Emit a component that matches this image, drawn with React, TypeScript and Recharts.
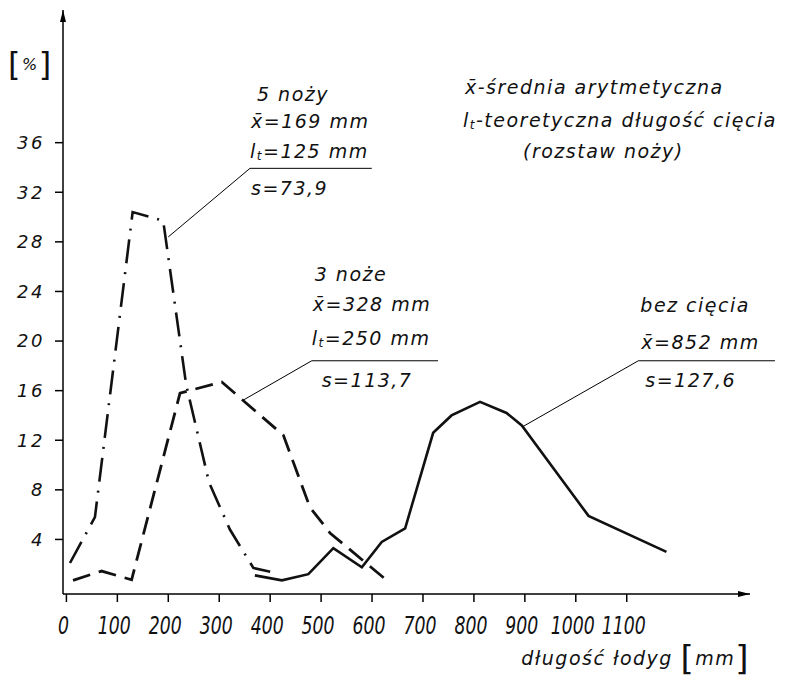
import { LineChart, Line, XAxis, YAxis, ReferenceLine, ReferenceDot } from "recharts";

// 5 noży (dash-dot)
const knives5X = [7, 56, 130, 190, 235, 280, 321, 367, 400];
const knives5Y = [2.1, 5.8, 30.4, 29.7, 16.5, 8.6, 4.8, 1.7, 1.4];
// 3 noże (dashed)
const knives3X = [13, 69, 128, 223, 305, 426, 478, 518, 629];
const knives3Y = [0.7, 1.45, 0.75, 15.8, 16.7, 12.4, 6.6, 4.5, 0.7];
// bez cięcia (solid)
const uncutX = [370, 423, 475, 524, 580, 619, 665, 720, 756, 812, 864, 894, 1025, 1178];
const uncutY = [1.1, 0.7, 1.2, 3.3, 1.75, 3.8, 4.9, 12.6, 14.0, 15.1, 14.2, 13.2, 5.9, 3.0];

const xTicks = [0, 100, 200, 300, 400, 500, 600, 700, 800, 900, 1000, 1100];
const yTicks = [4, 8, 12, 16, 20, 24, 28, 32, 36];

const toPoints = (xs: number[], ys: number[]) => xs.map((x, i) => ({ x, y: ys[i] }));
const knives5 = toPoints(knives5X, knives5Y);
const knives3 = toPoints(knives3X, knives3Y);
const uncut = toPoints(uncutX, uncutY);

const FONT = "'DejaVu Sans', sans-serif";
const INK = "#111";

type Row = { dx: number; dy: number; content: React.ReactNode; size?: number };

function Note({ viewBox, rows }: { viewBox?: { x: number; y: number }; rows: Row[] }) {
  if (!viewBox) return null;
  return (
    <g>
      {rows.map((r, i) => (
        <text
          key={i}
          x={viewBox.x + r.dx}
          y={viewBox.y + r.dy}
          dominantBaseline="central"
          fontFamily={FONT}
          fontStyle="italic"
          fontSize={r.size ?? 19}
          letterSpacing={1.5}
          fill={INK}
        >
          {r.content}
        </text>
      ))}
    </g>
  );
}

const lt = (rest: string) => (
  <>
    <tspan>l</tspan>
    <tspan fontSize={12} dy={5}>t</tspan>
    <tspan dy={-5}>{rest}</tspan>
  </>
);

// narrow, tall italic digits like the hand lettering on the x axis
function XTick({ x, y, payload }: any) {
  return (
    <text
      transform={`translate(${x - 3},${y + 19}) scale(0.72,1)`}
      textAnchor="middle"
      dominantBaseline="central"
      fontFamily={FONT}
      fontStyle="italic"
      fontSize={24}
      fill={INK}
    >
      {payload.value}
    </text>
  );
}

function AxisTitle({ viewBox }: { viewBox?: { x: number; y: number; width: number } }) {
  if (!viewBox) return null;
  const right = viewBox.x + viewBox.width;
  return (
    <text x={right} y={viewBox.y + 64} textAnchor="end" dominantBaseline="central" fontFamily={FONT} fontStyle="italic" fill={INK} fontSize={19} letterSpacing={1.5}>
      <tspan>długość łodyg </tspan>
      <tspan fontSize={34} fontStyle="normal">[</tspan>
      <tspan>mm</tspan>
      <tspan fontSize={34} fontStyle="normal">]</tspan>
    </text>
  );
}

export default function App() {
  return (
    <div style={{ position: "absolute", left: 0, top: 0, width: 789, height: 682, background: "#fff" }}>
      <LineChart width={789} height={682} margin={{ top: 10, right: 39, bottom: 58, left: 0 }}>
        <defs>
          <marker id="arrowHead" viewBox="0 0 12 8" refX="12" refY="4" markerWidth="12" markerHeight="8" markerUnits="userSpaceOnUse" orient="auto-start-reverse">
            <path d="M0,1 L12,4 L0,7 z" fill="#000" />
          </marker>
        </defs>
        <XAxis
          type="number"
          dataKey="x"
          domain={[-6.7, 1342]}
          allowDataOverflow
          ticks={xTicks}
          interval={0}
          tickSize={8}
          tickMargin={5}
          axisLine={{ stroke: "#000", strokeWidth: 1.5, markerEnd: "url(#arrowHead)" }}
          tickLine={{ stroke: "#000", strokeWidth: 1.5 }}
          tick={XTick}
          label={{ content: AxisTitle }}
        />
        <YAxis
          type="number"
          domain={[-0.4, 46.7]}
          allowDataOverflow
          ticks={yTicks}
          interval={0}
          width={63}
          tickSize={8}
          tickMargin={10}
          axisLine={{ stroke: "#000", strokeWidth: 1.5, markerStart: "url(#arrowHead)" }}
          tickLine={{ stroke: "#000", strokeWidth: 1.5 }}
          tick={{ fontSize: 18, fontFamily: FONT, fontStyle: "italic", fill: INK, letterSpacing: 2.5 }}
        />

        <Line data={knives5} dataKey="y" type="linear" stroke={INK} strokeWidth={2.6} strokeDasharray="24 9 2 9" dot={false} isAnimationActive={false} />
        <Line data={knives3} dataKey="y" type="linear" stroke={INK} strokeWidth={2.8} strokeDasharray="18 9" dot={false} isAnimationActive={false} />
        <Line data={uncut} dataKey="y" type="linear" stroke={INK} strokeWidth={2.6} dot={false} isAnimationActive={false} />

        {/* leader lines */}
        <ReferenceLine segment={[{ x: 200, y: 28.4 }, { x: 360.4, y: 33.93 }]} stroke="#000" strokeWidth={1} ifOverflow="visible" />
        <ReferenceLine segment={[{ x: 360.4, y: 33.93 }, { x: 599.4, y: 33.93 }]} stroke="#000" strokeWidth={1} ifOverflow="visible" />
        <ReferenceLine segment={[{ x: 347.3, y: 15.24 }, { x: 481.6, y: 18.41 }]} stroke="#000" strokeWidth={1} ifOverflow="visible" />
        <ReferenceLine segment={[{ x: 481.6, y: 18.41 }, { x: 729.5, y: 18.41 }]} stroke="#000" strokeWidth={1} ifOverflow="visible" />
        <ReferenceLine segment={[{ x: 896, y: 13.1 }, { x: 1122.8, y: 18.41 }]} stroke="#000" strokeWidth={1} ifOverflow="visible" />
        <ReferenceLine segment={[{ x: 1122.8, y: 18.41 }, { x: 1391, y: 18.41 }]} stroke="#000" strokeWidth={1} ifOverflow="visible" />

        {/* annotation texts */}
        <ReferenceDot
          x={360.4}
          y={33.93}
          r={0}
          ifOverflow="visible"
          label={{
            content: (p: any) => (
              <Note
                viewBox={p.viewBox}
                rows={[
                  { dx: 7, dy: -74, content: "5 noży" },
                  { dx: 1, dy: -47, content: "x\u0304=169 mm" },
                  { dx: 0, dy: -17, content: lt("=125 mm") },
                  { dx: 1, dy: 20, content: "s=73,9" },
                ]}
              />
            ),
          }}
        />
        <ReferenceDot
          x={481.6}
          y={18.41}
          r={0}
          ifOverflow="visible"
          label={{
            content: (p: any) => (
              <Note
                viewBox={p.viewBox}
                rows={[
                  { dx: 3, dy: -87, content: "3 noże" },
                  { dx: 1, dy: -57, content: "x\u0304=328 mm" },
                  { dx: 0, dy: -23, content: lt("=250 mm") },
                  { dx: 10, dy: 19, content: "s=113,7" },
                ]}
              />
            ),
          }}
        />
        <ReferenceDot
          x={1122.8}
          y={18.41}
          r={0}
          ifOverflow="visible"
          label={{
            content: (p: any) => (
              <Note
                viewBox={p.viewBox}
                rows={[
                  { dx: 2, dy: -56, content: "bez cięcia" },
                  { dx: 3, dy: -19, content: "x\u0304=852 mm" },
                  { dx: 7, dy: 19, content: "s=127,6" },
                ]}
              />
            ),
          }}
        />
        <ReferenceDot
          x={782.5}
          y={40.46}
          r={0}
          ifOverflow="visible"
          label={{
            content: (p: any) => (
              <Note
                viewBox={p.viewBox}
                rows={[
                  { dx: 0, dy: 0, content: "x\u0304-średnia arytmetyczna" },
                  { dx: -2, dy: 33, content: lt("-teoretyczna długość cięcia") },
                  { dx: 58, dy: 64, content: "(rozstaw noży)" },
                ]}
              />
            ),
          }}
        />
        <ReferenceDot
          x={-114.7}
          y={42.34}
          r={0}
          ifOverflow="visible"
          label={{
            content: (p: any) => (
              <Note
                viewBox={p.viewBox}
                rows={[
                  {
                    dx: 0,
                    dy: 0,
                    content: (
                      <>
                        <tspan fontSize={32} fontStyle="normal">[</tspan>
                        <tspan fontSize={16}>%</tspan>
                        <tspan fontSize={32} fontStyle="normal">]</tspan>
                      </>
                    ),
                  },
                ]}
              />
            ),
          }}
        />
      </LineChart>
    </div>
  );
}
